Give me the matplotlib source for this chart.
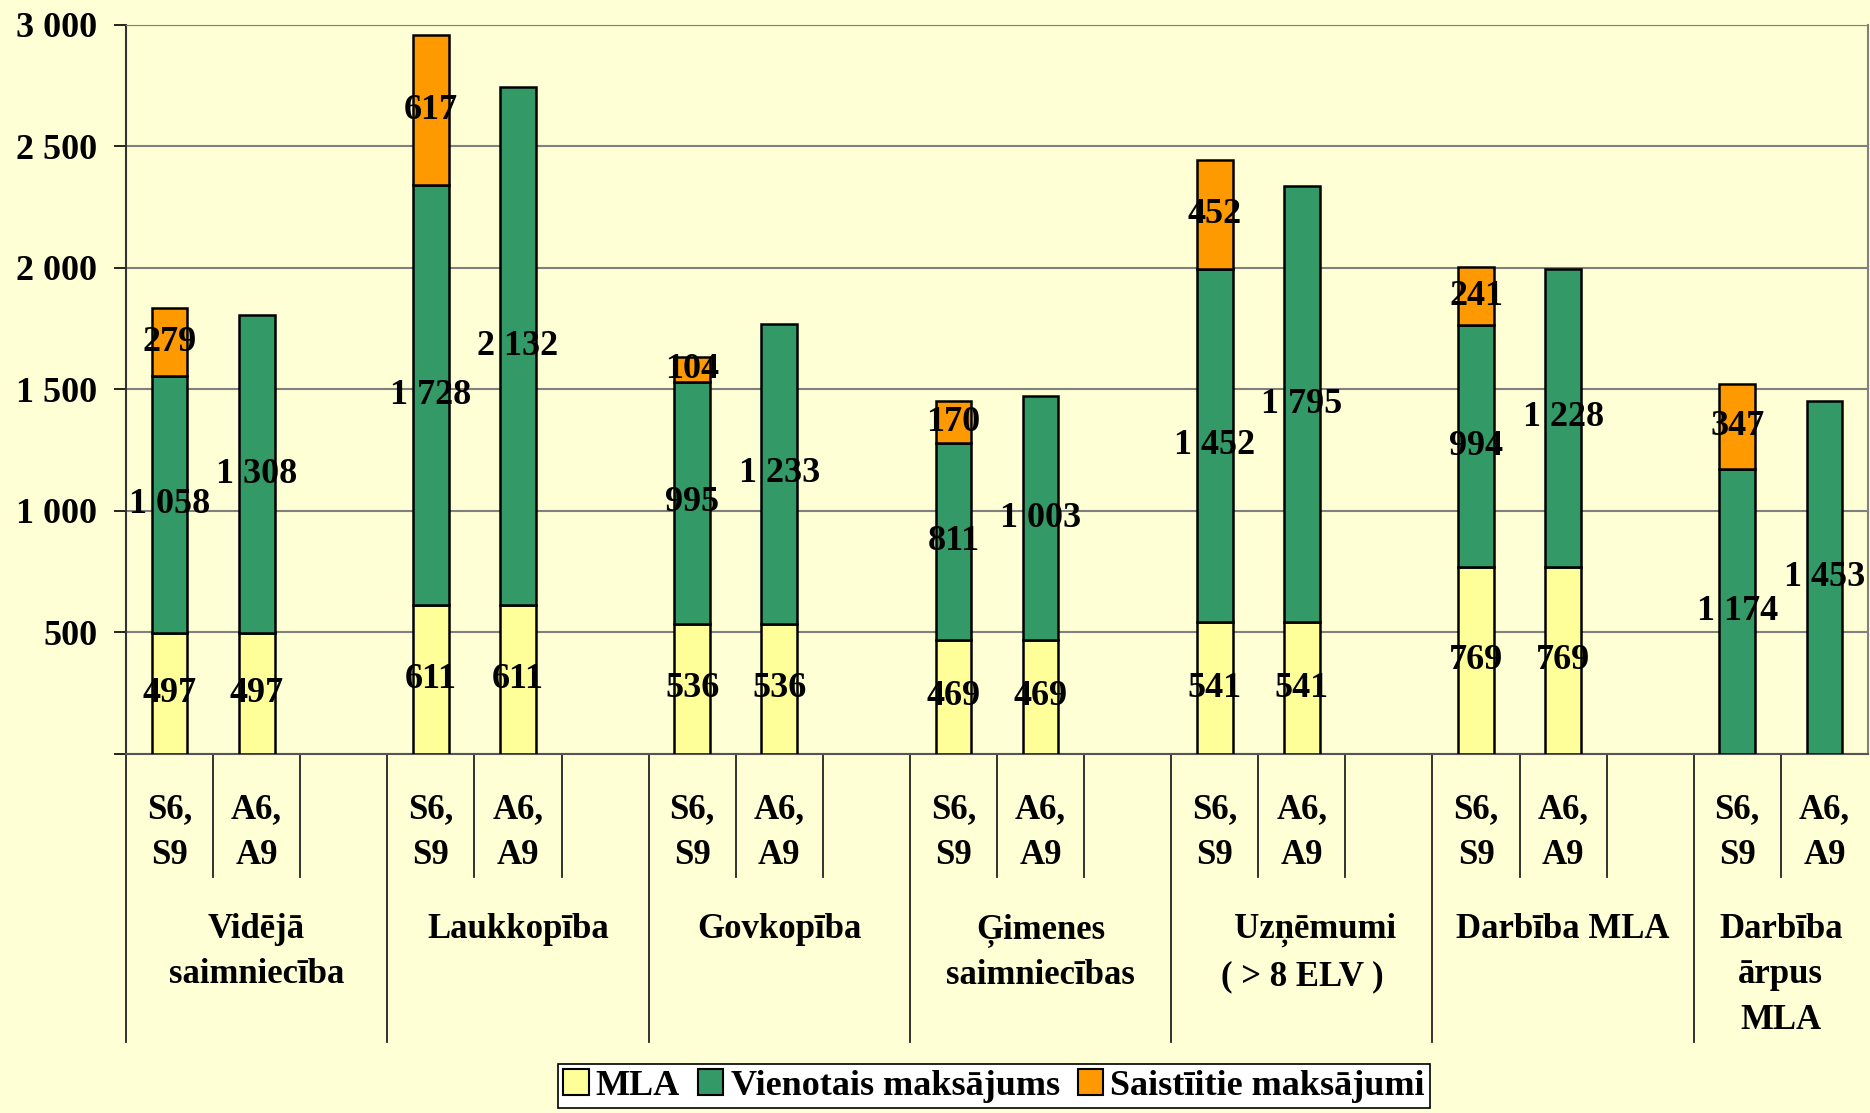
import matplotlib.pyplot as plt
import matplotlib.patches as mpatches
from matplotlib.transforms import blended_transform_factory

plt.rcParams['font.family'] = ['Liberation Serif', 'DejaVu Serif']
plt.rcParams['font.weight'] = 'bold'

# DATA
groups = ['Vidējā\nsaimniecība', 'Laukkopība', 'Govkopība', 'Ģimenes\nsaimniecības',
          '   Uzņēmumi\n( > 8 ELV )', 'Darbība MLA', 'Darbība\nārpus\nMLA']
sub_labels = ['S6,\nS9', 'A6,\nA9']
series = ['MLA', 'Vienotais maksājums', 'Saistīitie maksājumi']
colors = ['#FFFF99', '#339966', '#FF9900']

mla_s = [497, 611, 536, 469, 541, 769, 0]
mla_a = [497, 611, 536, 469, 541, 769, 0]
vien_s = [1058, 1728, 995, 811, 1452, 994, 1174]
vien_a = [1308, 2132, 1233, 1003, 1795, 1228, 1453]
sais_s = [279, 617, 104, 170, 452, 241, 347]
sais_a = [0, 0, 0, 0, 0, 0, 0]

bg = '#FFFFD5'
fig = plt.figure(figsize=(18.7, 11.13), dpi=100, facecolor=bg)
ax = fig.add_axes([0.0674, 0.3226, 0.9315, 0.6552], facecolor=bg)

n_slots = 3 * len(groups) - 1
bar_w = 0.41

def fmt(v):
    return f'{v:,}'.replace(',', ' ')

for g in range(len(groups)):
    for k, stack in enumerate([(mla_s[g], vien_s[g], sais_s[g]), (mla_a[g], vien_a[g], sais_a[g])]):
        x = 3 * g + k + 0.5
        bottom = 0
        for val, col in zip(stack, colors):
            if val == 0:
                continue
            ax.bar(x, val, bar_w, bottom=bottom, color=col, edgecolor='black', linewidth=1.8, zorder=3)
            ax.text(x, bottom + val / 2, fmt(val), ha='center', va='center', fontsize=26,
                    fontweight='bold', zorder=4)
            bottom += val

ax.set_xlim(0, n_slots)
ax.set_ylim(0, 3000)
ax.set_yticks(range(0, 3001, 500))
ax.set_yticklabels([''] + [fmt(v) for v in range(500, 3001, 500)])
ax.tick_params(axis='y', length=8.6, width=1.2, pad=12, labelsize=26, direction='out')
ax.set_xticks([])
ax.grid(axis='y', color='#808080', linewidth=1.5, zorder=0)
ax.spines['left'].set_color('#333333')
ax.spines['left'].set_linewidth(1.5)
ax.spines['bottom'].set_color('#555555')
ax.spines['bottom'].set_linewidth(1.5)
ax.spines['top'].set_color('#808080')
ax.spines['right'].set_color('#808080')
ax.spines['right'].set_linewidth(1.5)

# category axis below the plot
tr = blended_transform_factory(ax.transData, ax.transAxes)
for s in range(n_slots):
    y_end = -0.395 if s % 3 == 0 else -0.169
    ax.plot([s, s], [0, y_end], transform=tr, color='#222222', linewidth=1.3, clip_on=False)

for g, name in enumerate(groups):
    for k, lab in enumerate(sub_labels):
        ax.text(3 * g + k + 0.5, -0.108, lab, transform=tr, ha='center', va='center',
                fontsize=25, fontweight='bold', linespacing=1.5)
    right = min(3 * g + 3, n_slots)
    ax.text((3 * g + right) / 2, -0.218, name, transform=tr, ha='center', va='top',
            fontsize=25, fontweight='bold', linespacing=1.5)

handles = [mpatches.Patch(facecolor=c, edgecolor='black', linewidth=1.5) for c in colors]
leg = fig.legend(handles, series, loc='upper center', bbox_to_anchor=(0.5316, 0.044),
                 ncol=3, fontsize=26, frameon=True, fancybox=False, edgecolor='black',
                 facecolor='white', framealpha=1, handlelength=0.7, handleheight=0.7,
                 handletextpad=0.2, columnspacing=0.5, borderpad=0.15, borderaxespad=0)
leg.get_frame().set_linewidth(1.2)

fig.savefig('out.png', dpi=100, facecolor=bg)
